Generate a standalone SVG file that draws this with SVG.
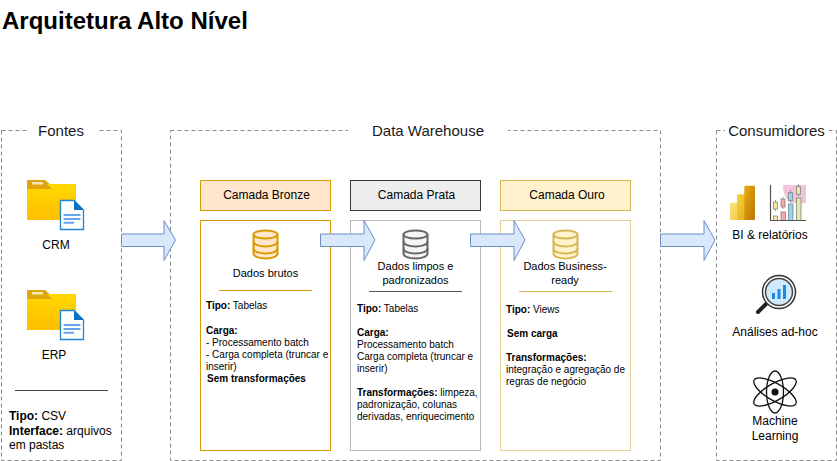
<svg xmlns="http://www.w3.org/2000/svg" width="837" height="461" viewBox="0 0 837 461">
<style>
text{font-family:"Liberation Sans",Arial,sans-serif;fill:#000}
.h{font-size:15px;text-anchor:middle;fill:#1a1a1a}
.l{font-size:12px;text-anchor:middle}
.m{font-size:12px}
.s{font-size:10px}
.d{font-size:11px;text-anchor:middle}
.b{font-weight:bold}
.grp{fill:#fff;stroke:#8a8a8a;stroke-dasharray:4 3}
.gap{fill:#fff}
.arr{fill:#dae8fc;stroke:#6c8ebf;stroke-width:1}
.cyl{stroke-width:2}
</style>
<defs>
<linearGradient id="fold" x1="0" y1="0" x2="0" y2="1"><stop offset="0" stop-color="#ffd800"/><stop offset="1" stop-color="#ffbe00"/></linearGradient>
<linearGradient id="pb1" x1="0" y1="0" x2="1" y2="1"><stop offset="0" stop-color="#f9e27a"/><stop offset="1" stop-color="#f2c94a"/></linearGradient>
<linearGradient id="pb2" x1="0" y1="0" x2="1" y2="1"><stop offset="0" stop-color="#f6d33f"/><stop offset="1" stop-color="#e3aa14"/></linearGradient>
<linearGradient id="pb3" x1="0" y1="0" x2="1" y2="1"><stop offset="0" stop-color="#e8ab12"/><stop offset="1" stop-color="#b87504"/></linearGradient>
<g id="folderdoc">
<path d="M27 181q0-1 1-1H45L52 186V189H27Z" fill="#dfa50e"/>
<rect x="32" y="182" width="11" height="2.500" fill="#f6e7b0"/>
<path d="M27 189H52L47 184H76V220H27Z" fill="url(#fold)"/>
<path d="M60.500 200.500H74L83.500 210V229.500H60.500Z" fill="#fff" stroke="#1f84d6" stroke-width="1.300"/>
<path d="M74 200.500L83.500 210H74Z" fill="#0c6fc4"/>
<path d="M63.500 215H80.500M63.500 219H80.500M63.500 222.700H74" stroke="#6aa5ea" stroke-width="2" fill="none"/>
</g>
<g id="db">
<path d="M0 5V24C0 27 5.500 29 12 29S24 27 24 24V5" class="cyl"/>
<ellipse cx="12" cy="5" rx="12" ry="4" class="cyl"/>
<path d="M0 12C0 15 5.500 17 12 17S24 15 24 12M0 19C0 22 5.500 24 12 24S24 22 24 19" fill="none" class="cyl"/>
</g>
</defs>
<rect width="837" height="461" fill="#fff"/>
<text x="2" y="29" class="b" style="font-size:24px">Arquitetura Alto Nível</text>

<g id="fontes">
<rect x="1.500" y="130.500" width="120" height="330" class="grp"/>
<rect x="27" y="124" width="70" height="14" class="gap"/>
<text x="61" y="136" class="h">Fontes</text>
<use href="#folderdoc"/>
<text x="56" y="249" class="l">CRM</text>
<use href="#folderdoc" y="110"/>
<text x="54" y="359" class="l">ERP</text>
<path d="M15 390.500H108" stroke="#444" fill="none"/>
<text x="9" y="420" class="m"><tspan class="b">Tipo:</tspan> CSV</text>
<text x="9" y="434.500" class="m"><tspan class="b">Interface:</tspan> arquivos</text>
<text x="9" y="449" class="m">em pastas</text>
</g>

<g id="data-warehouse">
<rect x="170.500" y="130.500" width="490" height="330" class="grp"/>
<rect x="348" y="124" width="160" height="14" class="gap"/>
<text x="428" y="136" class="h">Data Warehouse</text>
</g>

<g id="consumidores">
<rect x="716.500" y="130.500" width="120" height="330" class="grp"/>
<rect x="725" y="124" width="104" height="14" class="gap"/>
<text x="776.500" y="136" class="h">Consumidores</text>
</g>

<g id="bronze">
<rect x="200.500" y="180.500" width="130" height="30" fill="#ffe6cc" stroke="#d79b00"/>
<text x="266.500" y="199" class="l">Camada Bronze</text>
<rect x="200.500" y="220.500" width="130" height="230" fill="#fff" stroke="#d79b00"/>
<use href="#db" x="253.500" y="229.500" fill="#ffe6cc" stroke="#d79b00"/>
<text x="265.500" y="277" class="d">Dados brutos</text>
<path d="M219 290.500H312" stroke="#d79b00" fill="none"/>
<text x="206" y="309" class="s"><tspan class="b">Tipo:</tspan> Tabelas</text>
<text x="206" y="333.500" class="s b">Carga:</text>
<text x="206" y="345.500" class="s">- Processamento batch</text>
<text x="206" y="357.500" class="s">- Carga completa (truncar e</text>
<text x="206" y="369.500" class="s">inserir)</text>
<text x="207" y="381.500" class="s b">Sem transformações</text>
</g>

<g id="prata">
<rect x="350.500" y="180.500" width="130" height="30" fill="#eeeeee" stroke="#36393d"/>
<text x="416.500" y="199" class="l">Camada Prata</text>
<rect x="350.500" y="220.500" width="130" height="230" fill="#fff" stroke="#b8b8b8"/>
<use href="#db" x="403.500" y="229.500" fill="#f5f5f5" stroke="#666666"/>
<text x="415.500" y="270" class="d">Dados limpos e</text>
<text x="415.500" y="284" class="d">padronizados</text>
<path d="M369 291.500H462" stroke="#555" fill="none"/>
<text x="357" y="311.500" class="s"><tspan class="b">Tipo:</tspan> Tabelas</text>
<text x="357" y="335.500" class="s b">Carga:</text>
<text x="357" y="347.500" class="s">Processamento batch</text>
<text x="357" y="359.500" class="s">Carga completa (truncar e</text>
<text x="357" y="371.500" class="s">inserir)</text>
<text x="357" y="395.500" class="s"><tspan class="b">Transformações:</tspan> limpeza,</text>
<text x="357" y="407.500" class="s">padronização, colunas</text>
<text x="357" y="419.500" class="s">derivadas, enriquecimento</text>
</g>

<g id="ouro">
<rect x="500.500" y="180.500" width="130" height="30" fill="#fff2cc" stroke="#d6b656"/>
<text x="567" y="199" class="l">Camada Ouro</text>
<rect x="500.500" y="220.500" width="130" height="230" fill="#fff" stroke="#e3d196"/>
<use href="#db" x="553.500" y="229.500" fill="#fff2cc" stroke="#d6b656"/>
<text x="565" y="270" class="d">Dados Business-</text>
<text x="565" y="284" class="d">ready</text>
<path d="M519 291.500H612" stroke="#d6b656" fill="none"/>
<text x="506" y="313" class="s"><tspan class="b">Tipo:</tspan> Views</text>
<text x="507" y="337" class="s b">Sem carga</text>
<text x="506" y="361" class="s b">Transformações:</text>
<text x="506" y="373" class="s">integração e agregação de</text>
<text x="506" y="385" class="s">regras de negócio</text>
</g>

<g id="bi">
<rect x="730" y="202.700" width="12" height="17.300" rx="1" fill="url(#pb1)"/>
<rect x="737" y="194.300" width="11.500" height="25.700" rx="1" fill="url(#pb2)"/>
<rect x="744.300" y="185.700" width="10.700" height="34.300" rx="1" fill="url(#pb3)"/>
<path d="M783 185H806V203H792Q783 199 783 185Z" fill="#f0c4da"/>
<g stroke="#777" stroke-width="0.700">
<rect x="773.500" y="216" width="4" height="4.500" fill="#fae5a8"/>
<rect x="781" y="212" width="4.500" height="8.500" fill="#f6a8a8"/>
<rect x="788.500" y="204" width="4.500" height="16.500" fill="#93d5ea"/>
<rect x="796.500" y="198" width="4.500" height="22.500" fill="#e5e8a8"/>
<path d="M775.500 200V211M783 197V209M790.500 190V203M798.500 184V196" fill="none"/>
<rect x="773.500" y="202" width="4" height="7" fill="#fae5a8"/>
<rect x="781" y="199" width="4" height="8" fill="#f6a8a8"/>
<rect x="788.500" y="192.700" width="4" height="8" fill="#93d5ea"/>
<rect x="796.500" y="186.700" width="4" height="7.500" fill="#e5e8a8"/>
</g>
<path d="M770.500 185V220.500H806" fill="none" stroke="#555" stroke-width="1.200"/>
<text x="770" y="239" class="l">BI &amp; relatórios</text>
</g>

<g id="adhoc">
<path d="M767 303L758 312" stroke="#222" stroke-width="4" stroke-linecap="round" fill="none"/>
<circle cx="779" cy="292" r="16.500" fill="#fff" stroke="#333" stroke-width="1.500"/>
<circle cx="779" cy="292" r="13.500" fill="#cfeaff" stroke="#444" stroke-width="1.500"/>
<path d="M772 293h3v6h-3zM777.500 289h3v10h-3zM783 285h3v14h-3z" fill="#1e88e5"/>
<text x="775" y="336" class="l">Análises ad-hoc</text>
</g>

<g id="ml">
<g fill="none" stroke="#111" stroke-width="1.300">
<ellipse cx="775" cy="392" rx="8.500" ry="21"/>
<ellipse cx="775" cy="392" rx="8.500" ry="24" transform="rotate(60 775 392)"/>
<ellipse cx="775" cy="392" rx="8.500" ry="24" transform="rotate(-60 775 392)"/>
</g>
<circle cx="775" cy="392" r="3.500" fill="#111"/>
<text x="775" y="425" class="l">Machine</text>
<text x="775" y="440" class="l">Learning</text>
</g>

<g id="connectors">
<path class="arr" d="M121.500 234H164V220.500L175.500 240L164 260.500V246.500H121.500Z"/>
<path class="arr" d="M320.500 234H364V220.500L375 240L364 260.500V246.500H320.500Z"/>
<path class="arr" d="M470.500 234H514V220.500L525 240L514 260.500V246.500H470.500Z"/>
<path class="arr" d="M660.500 234H704V220.500L715 240L704 260.500V246.500H660.500Z"/>
</g>
</svg>
